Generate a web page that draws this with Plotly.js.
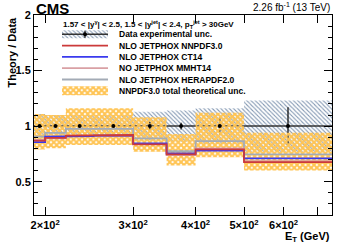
<!DOCTYPE html>
<html>
<head>
<meta charset="utf-8">
<script src="https://cdn.plot.ly/plotly-3.0.1.min.js"></script>
<style>
  html, body { margin: 0; padding: 0; background: #fff; }
  #chart { width: 349px; height: 247px; }
</style>
</head>
<body>
<div id="chart"></div>
<script>
// E_T bins (GeV) and ratios
const binEdges = [190, 200, 220, 250, 300, 350, 400, 500, 750];
const dataRatio = [1, 1, 1, 1, 1, 1, 1, 1];
const dataStatErr = [0.01, 0.01, 0.015, 0.02, 0.04, 0.03, 0.08, 0.17];
const dataExpUnc = [0.11, 0.10, 0.10, 0.10, 0.13, 0.14, 0.16, 0.23];

const nnpdf = [0.87, 0.895, 0.915, 0.92, 0.835, 0.745, 0.79, 0.675];
const ct14 = [0.855, 0.905, 0.91, 0.915, 0.845, 0.755, 0.78, 0.71];
const mmht = [0.875, 0.89, 0.91, 0.915, 0.84, 0.74, 0.80, 0.685];
const hera = [0.905, 0.94, 0.975, 0.975, 0.89, 0.775, 0.865, 0.745];
const nnpdfUncLo = [0.79, 0.80, 0.83, 0.83, 0.77, 0.645, 0.72, 0.60];
const nnpdfUncHi = [1.11, 1.10, 1.16, 1.16, 1.08, 0.93, 1.12, 0.94];

const xTickVals = [200, 300, 400, 500, 600, 700];
const xTickText = ['2×10<sup>2</sup>', '3×10<sup>2</sup>', '4×10<sup>2</sup>', '5×10<sup>2</sup>', '6×10<sup>2</sup>', ''];
const yTickVals = [0.5, 1, 1.5, 2];
const yTickText = ['0.5', '1', '1.5', '2'];

const legendLabels = [
    'Data experimental unc.',
    'NLO JETPHOX NNPDF3.0',
    'NLO JETPHOX CT14',
    'NO JETPHOX MMHT14',
    'NLO JETPHOX HERAPDF2.0',
    'NNPDF3.0 total theoretical unc.'
];

const FONT = 'Liberation Sans, Arial, sans-serif';
const colors = {
    nnpdf: '#cc3a3a',
    ct14: '#3a3aee',
    mmht: '#d9a0a4',
    hera: '#a3abb6',
    hatch: '#8499b3',
    orange: '#ffc453'
};
const hatchPattern = { shape: '\\', fgcolor: colors.hatch, bgcolor: 'white', size: 3, solidity: 0.35 };
const orangePattern = { shape: 'x', fgcolor: colors.orange, bgcolor: 'rgba(255,255,255,0)', size: 4, solidity: 0.75 };

// histogram-style step path through the bin edges
function stepPath(vals) {
    const x = [], y = [];
    vals.forEach((v, i) => {
        x.push(binEdges[i], binEdges[i + 1]);
        y.push(v, v);
    });
    return { x, y };
}

function bandPath(lo, hi) {
    const top = stepPath(hi);
    const bot = stepPath(lo);
    return {
        x: top.x.concat(bot.x.slice().reverse()),
        y: top.y.concat(bot.y.slice().reverse())
    };
}

const centers = dataRatio.map((_, i) => Math.sqrt(binEdges[i] * binEdges[i + 1]));

const traces = [];

// data experimental uncertainty (hatched)
const expBand = bandPath(dataRatio.map((r, i) => r - dataExpUnc[i]), dataRatio.map((r, i) => r + dataExpUnc[i]));
traces.push({
    x: expBand.x, y: expBand.y, type: 'scatter', mode: 'lines',
    fill: 'toself', fillcolor: 'white', fillpattern: hatchPattern,
    line: { width: 0 }, hoverinfo: 'skip'
});

// data bin-width line at the ratio
const dataLine = stepPath(dataRatio);
traces.push({
    x: dataLine.x, y: dataLine.y, type: 'scatter', mode: 'lines',
    line: { color: '#333', width: 1.5 }, hoverinfo: 'skip'
});

// data stat error bars
traces.push({
    x: centers, y: dataRatio, type: 'scatter', mode: 'markers',
    marker: { size: 0.1, color: 'black' },
    error_y: { type: 'data', array: dataStatErr, color: 'black', thickness: 1.2, width: 0 }
});

// NNPDF total theory uncertainty (orange pattern)
const thBand = bandPath(nnpdfUncLo, nnpdfUncHi);
traces.push({
    x: thBand.x, y: thBand.y, type: 'scatter', mode: 'lines',
    fill: 'toself', fillcolor: 'rgba(255,255,255,0)', fillpattern: orangePattern,
    line: { width: 0 }, hoverinfo: 'skip'
});

// theory / data lines
[[hera, colors.hera], [mmht, colors.mmht], [ct14, colors.ct14], [nnpdf, colors.nnpdf]].forEach(([vals, c]) => {
    const p = stepPath(vals);
    traces.push({
        x: p.x, y: p.y, type: 'scatter', mode: 'lines',
        line: { color: c, width: 1.8 }
    });
});

// data markers on top
traces.push({
    x: centers, y: dataRatio, type: 'scatter', mode: 'markers',
    marker: { size: 4, color: 'black' }
});

// ---- legend drawn on a small hidden overlay axis (pixel-like rows) ----
const legendRowY = legendLabels.map((_, i) => 34.3 + 11.3 * i);
const L = (x, y) => ({ x, y, type: 'scatter', xaxis: 'x2', yaxis: 'y2', hoverinfo: 'skip' });

traces.push(Object.assign(L([0, 1, 1, 0, 0], [legendRowY[0] - 4, legendRowY[0] - 4, legendRowY[0] + 4, legendRowY[0] + 4, legendRowY[0] - 4]), {
    mode: 'lines', fill: 'toself', fillcolor: 'white', fillpattern: hatchPattern, line: { width: 0 }
}));
traces.push(Object.assign(L([0, 1], [legendRowY[0], legendRowY[0]]), {
    mode: 'lines', line: { color: '#333', width: 1.5 }
}));
traces.push(Object.assign(L([0.5], [legendRowY[0]]), {
    mode: 'markers', marker: { size: 4, color: 'black' },
    error_y: { type: 'data', array: [3.5], color: 'black', thickness: 1.2, width: 0 }
}));
[colors.nnpdf, colors.ct14, colors.mmht, colors.hera].forEach((c, k) => {
    const yy = legendRowY[k + 1];
    traces.push(Object.assign(L([0, 1], [yy, yy]), { mode: 'lines', line: { color: c, width: 1.8 } }));
});
const yo = legendRowY[5];
traces.push(Object.assign(L([0, 1, 1, 0, 0], [yo - 4.5, yo - 4.5, yo + 4.5, yo + 4.5, yo - 4.5]), {
    mode: 'lines', fill: 'toself', fillcolor: 'rgba(255,255,255,0)', fillpattern: orangePattern, line: { width: 0 }
}));

// layout geometry
const W = 349, H = 247;
const plotL = 34, plotR = 332, plotT = 15, plotB = 215;
const px2paperX = px => (px - plotL) / (plotR - plotL);
const px2paperY = py => (plotB - py) / (plotB - plotT);

const annotations = [
    {
        text: 'CMS', xref: 'paper', yref: 'paper', x: px2paperX(34), y: 1, xanchor: 'left', yanchor: 'bottom',
        yshift: -4, showarrow: false, font: { family: FONT, size: 15, weight: 700, color: 'black' }
    },
    {
        text: '2.26 fb<sup>-1</sup> (13 TeV)', xref: 'paper', yref: 'paper', x: 1, y: 1, xanchor: 'right', yanchor: 'bottom',
        showarrow: false, font: { family: FONT, size: 10, color: 'black' }
    },
    {
        text: 'Theory / Data', textangle: -90, xref: 'paper', yref: 'paper', x: px2paperX(11), y: 1,
        xanchor: 'center', yanchor: 'top', showarrow: false, font: { family: FONT, size: 11, weight: 700, color: 'black' }
    },
    {
        text: 'E<sub>T</sub> (GeV)', xref: 'paper', yref: 'paper', x: 1, y: px2paperY(237), xanchor: 'right', yanchor: 'middle',
        showarrow: false, font: { family: FONT, size: 11, weight: 700, color: 'black' }
    },
    {
        text: '1.57 < |y<sup>γ</sup>| < 2.5, 1.5 < |y<sup>jet</sup>| < 2.4, p<sub>T</sub><sup>jet</sup> > 30GeV',
        xref: 'paper', yref: 'paper', x: px2paperX(61), y: px2paperY(24), xanchor: 'left', yanchor: 'middle',
        showarrow: false, font: { family: FONT, size: 8, weight: 700, color: 'black' }
    }
];
legendLabels.forEach((t, i) => {
    annotations.push({
        text: t, xref: 'paper', yref: 'paper', x: px2paperX(117), y: px2paperY(legendRowY[i]),
        xanchor: 'left', yanchor: 'middle', showarrow: false,
        font: { family: FONT, size: 8.5, weight: 700, color: 'black' }
    });
});

const axisFont = { family: FONT, size: 11, weight: 700, color: 'black' };

const layout = {
    width: W, height: H,
    margin: { l: plotL, r: W - plotR, t: plotT, b: H - plotB, pad: 0 },
    paper_bgcolor: 'white',
    plot_bgcolor: 'rgba(0,0,0,0)',
    showlegend: false,
    xaxis: {
        type: 'log', range: [Math.log10(binEdges[0]), Math.log10(binEdges[binEdges.length - 1])],
        tickvals: xTickVals, ticktext: xTickText, ticks: 'inside', ticklen: 8, tickcolor: 'black',
        showline: true, linecolor: 'black', linewidth: 1, mirror: 'ticks',
        showgrid: false, zeroline: false, tickfont: axisFont, fixedrange: true
    },
    yaxis: {
        range: [0.2, 2], tickvals: yTickVals, ticktext: yTickText, ticks: 'inside', ticklen: 8, tickcolor: 'black',
        minor: { dtick: 0.1, ticklen: 4, ticks: 'inside', tickcolor: 'black', showgrid: false },
        showline: true, linecolor: 'black', linewidth: 1, mirror: 'ticks',
        showgrid: false, zeroline: false, tickfont: axisFont, fixedrange: true
    },
    xaxis2: {
        domain: [px2paperX(62), px2paperX(108)], range: [0, 1], anchor: 'y2', visible: false, fixedrange: true
    },
    yaxis2: {
        domain: [px2paperY(97), px2paperY(28)], range: [97, 28], anchor: 'x2', visible: false, fixedrange: true
    },
    annotations
};

Plotly.newPlot('chart', traces, layout, { displayModeBar: false, staticPlot: true });
</script>
</body>
</html>
